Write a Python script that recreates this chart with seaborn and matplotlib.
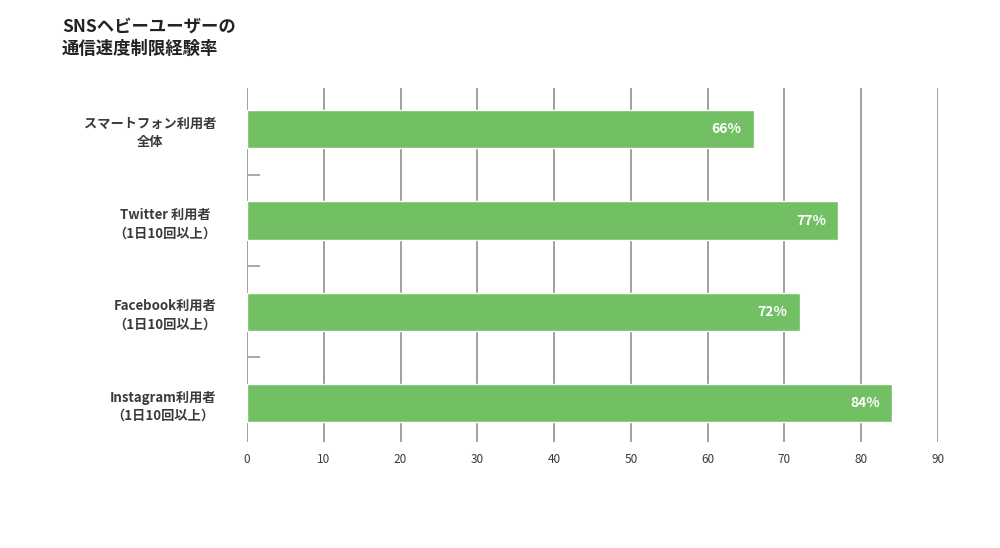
import numpy as np
import pandas as pd
import matplotlib.pyplot as plt
import seaborn as sns
from matplotlib.ticker import FixedLocator

sns.set_style('white')
plt.rcParams['font.family'] = ['Noto Sans CJK JP', 'DejaVu Sans']

# data
labels = ['スマートフォン利用者\n全体', 'Twitter 利用者\n（1日10回以上）',
          'Facebook利用者\n（1日10回以上）', 'Instagram利用者\n（1日10回以上）']
values = [66, 77, 72, 84]
xticks = [0, 10, 20, 30, 40, 50, 60, 70, 80, 90]

df = pd.DataFrame({'group': labels, 'rate': values})

bar_color = '#72bf64'
text_color = '#3a3a3a'
grid_color = '#999999'

fig = plt.figure(figsize=(10, 5.48), dpi=100)
ax = fig.add_axes([0.247, 0.193, 0.691, 0.646])

ax.set_axisbelow(True)
for x in xticks:
    ax.axvline(x, color=grid_color, lw=1.3, zorder=0, antialiased=True)

sns.barplot(data=df, x='rate', y='group', orient='h', color=bar_color,
            saturation=1, width=0.42, ax=ax, zorder=2)

ax.set_xlim(0, 90)
ax.set_ylim(3.43, -0.45)
ax.set_xticks(xticks)
ax.set_xticklabels([str(t) for t in xticks], fontsize=8.5, color=text_color)
ax.set_yticks(range(len(labels)))
ax.set_yticklabels(labels, fontsize=9.5, fontweight='bold', color=text_color,
                   multialignment='center', linespacing=1.4)
ax.tick_params(axis='x', length=0, pad=8)
ax.tick_params(axis='y', which='major', length=0, pad=22)
ax.yaxis.set_minor_locator(FixedLocator([0.5, 1.5, 2.5]))
ax.tick_params(axis='y', which='minor', left=True, direction='in', length=9,
               width=1.2, color=grid_color)
ax.set_xlabel('')
ax.set_ylabel('')
for s in ['top', 'right', 'bottom', 'left']:
    ax.spines[s].set_visible(False)

for i, v in enumerate(values):
    ax.text(v - 1.6, i, f'{v}%', ha='right', va='center', color='white',
            fontsize=10, fontweight='bold', zorder=3)

fig.text(0.062, 0.968, 'SNSヘビーユーザーの\n通信速度制限経験率', ha='left', va='top',
         fontsize=12.5, fontweight='bold', color='#222222', linespacing=1.3)

fig.savefig('out.png', dpi=100)
